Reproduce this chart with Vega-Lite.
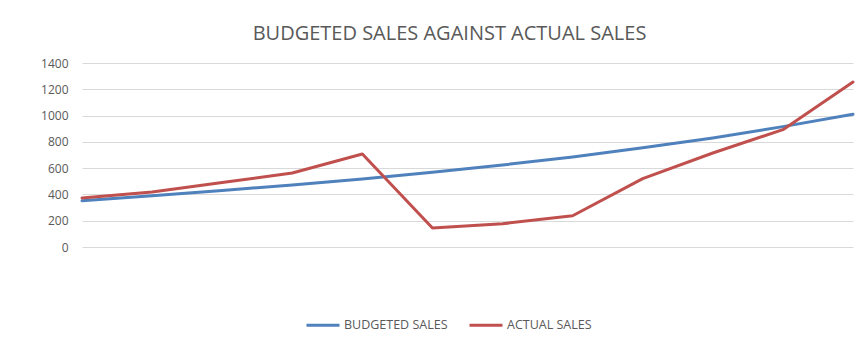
{
  "$schema": "https://vega.github.io/schema/vega-lite/v6.json",
  "width": 771,
  "height": 184,
  "autosize": "none",
  "padding": {"left": 82, "top": 63, "right": 10, "bottom": 112},
  "background": "white",
  "title": {
    "text": "BUDGETED SALES AGAINST ACTUAL SALES",
    "font": "Open Sans",
    "fontSize": 20,
    "fontWeight": "normal",
    "color": "#595959",
    "anchor": "middle",
    "dx": -18,
    "offset": 13
  },
  "data": {
    "values": [
      {"period": 1, "series": "BUDGETED SALES", "sales": 352},
      {"period": 2, "series": "BUDGETED SALES", "sales": 390},
      {"period": 3, "series": "BUDGETED SALES", "sales": 430},
      {"period": 4, "series": "BUDGETED SALES", "sales": 472},
      {"period": 5, "series": "BUDGETED SALES", "sales": 517},
      {"period": 6, "series": "BUDGETED SALES", "sales": 568},
      {"period": 7, "series": "BUDGETED SALES", "sales": 624},
      {"period": 8, "series": "BUDGETED SALES", "sales": 685},
      {"period": 9, "series": "BUDGETED SALES", "sales": 756},
      {"period": 10, "series": "BUDGETED SALES", "sales": 830},
      {"period": 11, "series": "BUDGETED SALES", "sales": 916},
      {"period": 12, "series": "BUDGETED SALES", "sales": 1010},
      {"period": 1, "series": "ACTUAL SALES", "sales": 373},
      {"period": 2, "series": "ACTUAL SALES", "sales": 418},
      {"period": 3, "series": "ACTUAL SALES", "sales": 490},
      {"period": 4, "series": "ACTUAL SALES", "sales": 563},
      {"period": 5, "series": "ACTUAL SALES", "sales": 708},
      {"period": 6, "series": "ACTUAL SALES", "sales": 145},
      {"period": 7, "series": "ACTUAL SALES", "sales": 177},
      {"period": 8, "series": "ACTUAL SALES", "sales": 238},
      {"period": 9, "series": "ACTUAL SALES", "sales": 520},
      {"period": 10, "series": "ACTUAL SALES", "sales": 715},
      {"period": 11, "series": "ACTUAL SALES", "sales": 893},
      {"period": 12, "series": "ACTUAL SALES", "sales": 1255}
    ]
  },
  "mark": {"type": "line", "strokeWidth": 3, "strokeCap": "round", "strokeJoin": "round"},
  "encoding": {
    "x": {
      "field": "period",
      "type": "quantitative",
      "scale": {"domain": [1, 12], "nice": false, "zero": false},
      "axis": null
    },
    "y": {
      "field": "sales",
      "type": "quantitative",
      "scale": {"domain": [0, 1400], "nice": false},
      "axis": {
        "values": [0, 200, 400, 600, 800, 1000, 1200, 1400],
        "format": "d",
        "title": null,
        "domain": false,
        "ticks": false,
        "grid": true,
        "gridColor": "#d9d9d9",
        "gridWidth": 1,
        "labelColor": "#595959",
        "labelFont": "Open Sans",
        "labelFontSize": 12,
        "labelPadding": 14
      }
    },
    "color": {
      "field": "series",
      "type": "nominal",
      "scale": {"domain": ["BUDGETED SALES", "ACTUAL SALES"], "range": ["#4F81BD", "#C0504D"]},
      "legend": {
        "title": null,
        "orient": "none",
        "direction": "horizontal",
        "legendX": 223,
        "legendY": 244,
        "symbolType": "stroke",
        "symbolSize": 1089,
        "symbolStrokeWidth": 3,
        "labelFont": "Open Sans",
        "labelFontSize": 12.5,
        "labelColor": "#595959",
        "labelOffset": 3,
        "columnPadding": 15
      }
    },
    "order": {"field": "period", "type": "quantitative"}
  },
  "config": {"view": {"stroke": null}}
}
